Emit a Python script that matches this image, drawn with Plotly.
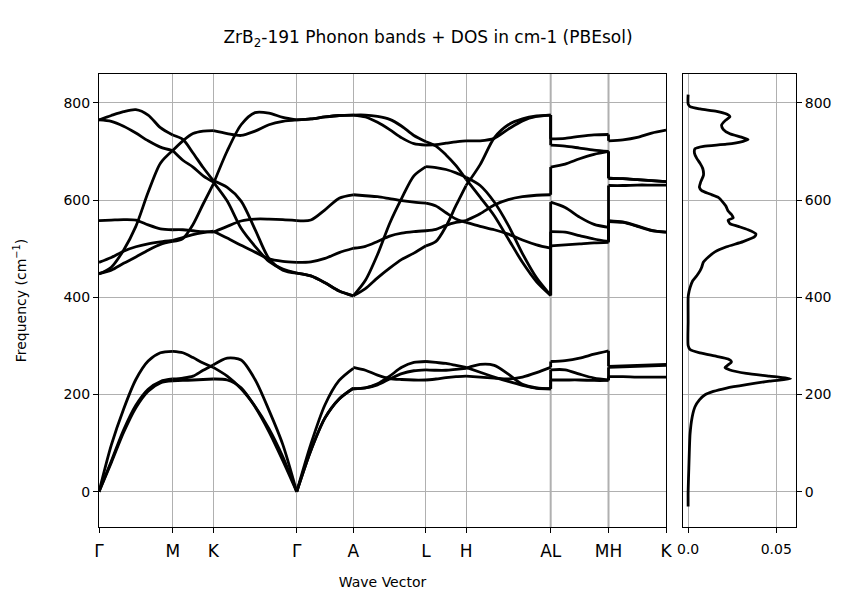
import plotly.graph_objects as go

# high-symmetry points along the path (normalised path distance)
TICK_LABELS = ['Γ', 'M', 'K', 'Γ', 'A', 'L', 'H', 'AL', 'MH', 'K']
TICK_POS = [0.0, 0.1300, 0.2016, 0.3487, 0.4485, 0.5767, 0.6473, 0.7966, 0.8986, 1.0]

# band frequencies (cm-1) sampled evenly along each segment, one row per branch
GM_BANDS = [
    [0, 96, 170, 231, 269, 286, 289],
    [0, 63, 127, 178, 211, 227, 232],
    [0, 60, 122, 173, 207, 224, 228],
    [765, 774, 782, 786, 775, 749, 734],
    [765, 762, 752, 738, 722, 709, 702],
    [448, 462, 497, 546, 616, 676, 702],
    [558, 559, 560, 559, 549, 541, 539],
    [472, 482, 495, 504, 510, 514, 517],
    [449, 456, 470, 483, 497, 509, 515],
]
MK_BANDS = [
    [289, 286, 276, 265, 256],
    [232, 234, 238, 250, 261],
    [228, 229, 230, 231, 232],
    [734, 725, 697, 667, 640],
    [702, 682, 668, 650, 637],
    [702, 722, 737, 742, 743],
    [539, 539, 537, 535, 534],
    [517, 523, 529, 533, 536],
    [515, 521, 550, 592, 633],
]
KG_BANDS = [
    [256, 238, 212, 176, 130, 72, 0],
    [261, 275, 271, 231, 168, 97, 0],
    [232, 230, 214, 175, 124, 64, 0],
    [640, 626, 598, 540, 480, 456, 450],
    [637, 598, 542, 505, 474, 458, 450],
    [743, 737, 733, 742, 755, 762, 765],
    [534, 546, 557, 561, 561, 560, 558],
    [536, 522, 507, 493, 479, 474, 472],
    [633, 701, 755, 780, 779, 770, 765],
]
GA_BANDS = [
    [0, 98, 179, 229, 254],
    [0, 85, 152, 191, 213],
    [0, 85, 152, 191, 213],
    [765, 767, 771, 774, 775],
    [765, 767, 771, 774, 775],
    [558, 559, 580, 604, 611],
    [472, 473, 480, 492, 501],
    [450, 444, 430, 413, 403],
    [450, 444, 430, 413, 403],
]
AL_BANDS = [
    [256, 250, 240, 233, 231, 230, 230],
    [212, 214, 222, 238, 256, 266, 268],
    [212, 214, 220, 232, 243, 249, 251],
    [775, 775, 772, 766, 752, 733, 720],
    [775, 771, 760, 745, 728, 716, 713],
    [611, 609, 607, 603, 599, 596, 594],
    [501, 505, 515, 526, 532, 535, 537],
    [403, 435, 488, 552, 604, 650, 669],
    [403, 418, 440, 460, 478, 491, 506],
]
LH_BANDS = [
    [230, 232, 235, 237, 238],
    [268, 266, 264, 260, 256],
    [251, 250, 250, 252, 254],
    [720, 711, 693, 671, 643],
    [713, 714, 717, 720, 722],
    [594, 588, 574, 561, 554],
    [537, 540, 548, 554, 558],
    [669, 667, 663, 656, 647],
    [506, 515, 546, 589, 630],
]
HA_BANDS = [
    [238, 236, 234, 232, 236, 245, 256],
    [256, 246, 236, 227, 219, 213, 212],
    [254, 262, 260, 242, 221, 214, 212],
    [643, 606, 568, 520, 472, 432, 404],
    [722, 722, 727, 746, 763, 772, 775],
    [554, 546, 539, 530, 518, 508, 501],
    [558, 572, 590, 601, 607, 610, 611],
    [647, 630, 596, 548, 490, 440, 404],
    [630, 673, 728, 755, 767, 773, 775],
]
LM_BANDS = [
    [268, 270, 275, 283, 290],
    [251, 251, 242, 234, 230],
    [230, 230, 230, 229, 229],
    [726, 727, 731, 734, 735],
    [713, 711, 707, 703, 700],
    [668, 674, 685, 694, 700],
    [596, 585, 565, 550, 544],
    [535, 534, 527, 520, 515],
    [506, 508, 510, 512, 513],
]
HK_BANDS = [
    [258, 259, 260, 261, 262],
    [256, 257, 258, 259, 260],
    [237, 237, 236, 236, 236],
    [722, 724, 729, 738, 744],
    [645, 644, 642, 640, 638],
    [645, 644, 642, 640, 638],
    [630, 630, 631, 631, 631],
    [558, 555, 547, 538, 534],
    [556, 554, 546, 537, 534],
]
SEGMENTS = [GM_BANDS, MK_BANDS, KG_BANDS, GA_BANDS, AL_BANDS, LH_BANDS, HA_BANDS, LM_BANDS, HK_BANDS]

# density of states
DOS_FREQ = [-30, 0, 49, 119, 154, 175, 189, 199.5, 206.5, 213.5, 220.5, 227.5, 232.4, 238, 243.6,
            250.6, 255.5, 261, 267, 273, 278.6, 285.6, 292.6, 301, 350, 399, 406, 420, 434, 444.5,
            455, 462, 472.5, 483, 493.5, 504, 514.5, 525, 530.6, 539, 546, 551.6, 558.6, 563.5,
            570.5, 577.5, 588, 595, 605.5, 612.5, 619.5, 626.5, 637, 651, 665, 675.5, 686, 696.5,
            705.6, 710.5, 715, 721, 724.5, 729.4, 736.4, 745.5, 754.6, 763, 771.4, 777, 782.6,
            787.5, 792.4, 798, 817]
DOS_VAL = [0, 0, 0.0004, 0.0011, 0.0023, 0.0039, 0.0064, 0.0096, 0.0143, 0.0218, 0.0331, 0.0462,
           0.0581, 0.046, 0.033, 0.0237, 0.0209, 0.0227, 0.0246, 0.0227, 0.0162, 0.0068, 0.0011, 0,
           0, 0, 0.0002, 0.0011, 0.0026, 0.0049, 0.0068, 0.0077, 0.0087, 0.0115, 0.0152, 0.0218,
           0.0312, 0.0378, 0.0384, 0.034, 0.0284, 0.0237, 0.0227, 0.0256, 0.0246, 0.0227, 0.0214,
           0.0199, 0.0171, 0.0124, 0.0077, 0.0064, 0.0071, 0.0087, 0.0083, 0.0068, 0.0049, 0.0036,
           0.0039, 0.0087, 0.0218, 0.0312, 0.034, 0.0303, 0.0237, 0.0199, 0.019, 0.0209, 0.0237,
           0.0218, 0.0162, 0.0068, 0.0011, 0, 0]

Y_RANGE = [-72.4, 859.4]
LINE = dict(color='black', width=2.8)
GRID = '#b0b0b0'
FONT = 'DejaVu Sans'

# the page body adds an 8px offset, so the figure is drawn 8px smaller
FIG_W, FIG_H = 848, 585

fig = go.Figure()

for i, bands in enumerate(SEGMENTS):
    x0, x1 = TICK_POS[i], TICK_POS[i + 1]
    for band in bands:
        n = len(band)
        xs = [x0 + (x1 - x0) * k / (n - 1) for k in range(n)]
        fig.add_trace(go.Scatter(x=xs, y=band, mode='lines', line=dict(shape='spline', smoothing=0.8, **LINE),
                                 showlegend=False, hoverinfo='skip'))

# discontinuities in the path: connect sorted end values to sorted start values
for seg_in, seg_out, tick in [(HA_BANDS, LM_BANDS, 7), (LM_BANDS, HK_BANDS, 8)]:
    ends = sorted(b[-1] for b in seg_in)
    starts = sorted(b[0] for b in seg_out)
    for a, b in zip(ends, starts):
        fig.add_trace(go.Scatter(x=[TICK_POS[tick], TICK_POS[tick]], y=[a, b], mode='lines', line=LINE,
                                 showlegend=False, hoverinfo='skip'))

fig.add_trace(go.Scatter(x=DOS_VAL, y=DOS_FREQ, mode='lines', line=dict(shape='spline', smoothing=0.6, **LINE),
                         xaxis='x2', yaxis='y2', showlegend=False, hoverinfo='skip'))

for tick in (7, 8):
    fig.add_vline(x=TICK_POS[tick], line=dict(color=GRID, width=2), layer='below', xref='x', yref='y')

axis_common = dict(showline=True, mirror=True, linecolor='black', linewidth=1, ticks='outside', ticklen=5,
                   tickcolor='black', showgrid=True, gridcolor=GRID, gridwidth=1, zeroline=False,
                   automargin=False)

fig.update_layout(
    width=FIG_W,
    height=FIG_H,
    paper_bgcolor='white',
    plot_bgcolor='white',
    font=dict(family=FONT, color='black', size=14),
    margin=dict(l=91, r=60, t=66, b=66),
    title=dict(text='ZrB<sub>2</sub>-191 Phonon bands + DOS in cm-1 (PBEsol)', x=420 / FIG_W, xref='container',
               xanchor='center', y=1 - 29 / FIG_H, yanchor='middle', font=dict(size=17), automargin=False),
    xaxis=dict(domain=[0, 0.8135], range=[0, 1], tickvals=TICK_POS, ticktext=TICK_LABELS,
               tickfont=dict(size=17), ticklabelstandoff=4,
               title=dict(text='Wave Vector', font=dict(size=14), standoff=16),
               **axis_common),
    yaxis=dict(range=Y_RANGE, tickvals=[0, 200, 400, 600, 800], tickfont=dict(size=14),
               title=dict(text='Frequency (cm<sup>−1</sup>)', font=dict(size=14), standoff=33),
               **axis_common),
    xaxis2=dict(domain=[0.8379, 1], range=[-0.0029, 0.0612], tickvals=[0, 0.05], ticktext=['0.0', '0.05'],
                tickfont=dict(size=14), ticklabelstandoff=4, anchor='y2', **axis_common),
    yaxis2=dict(range=Y_RANGE, tickvals=[0, 200, 400, 600, 800], tickfont=dict(size=14), side='right',
                anchor='x2', **axis_common),
)

fig.write_html('out.html')
